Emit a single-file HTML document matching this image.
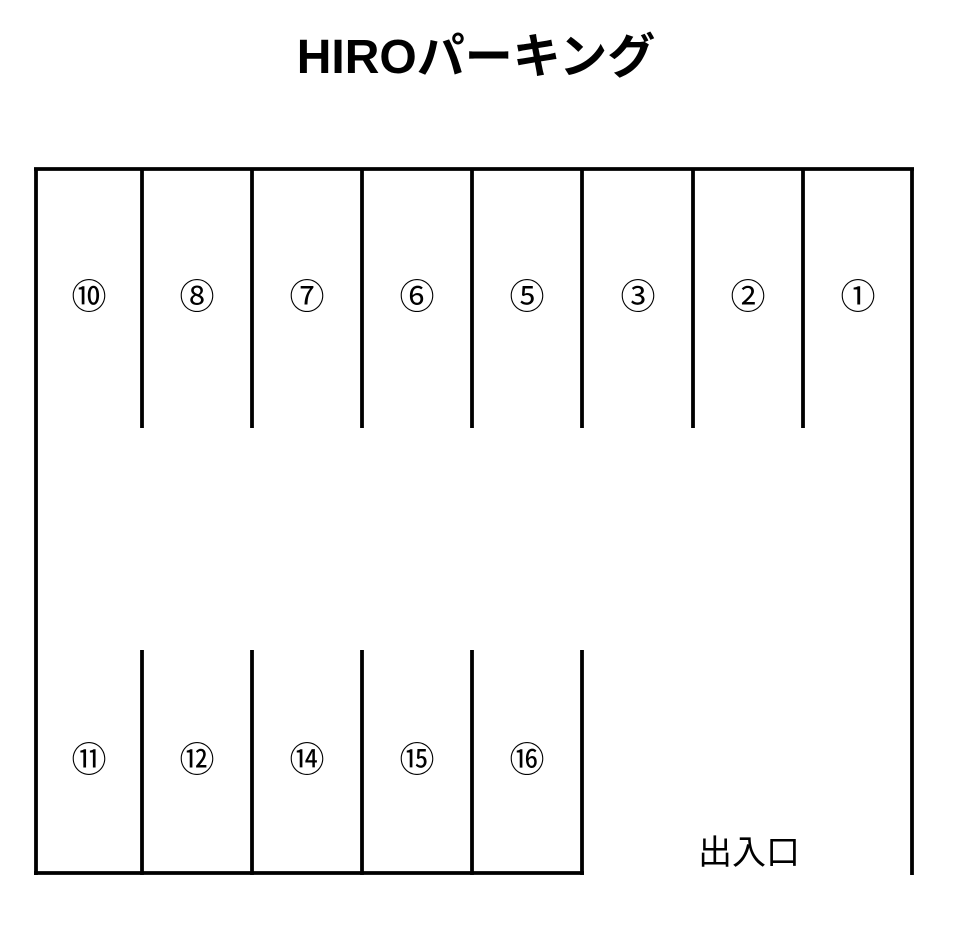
<!DOCTYPE html>
<html><head><meta charset="utf-8"><style>
html,body{margin:0;padding:0;background:#fff;}
svg{display:block;}
</style></head><body>
<svg width="968" height="940" viewBox="0 0 968 940" xmlns="http://www.w3.org/2000/svg">
<text x="476" y="73" text-anchor="middle" font-family="'Liberation Sans','Noto Sans CJK JP',sans-serif" font-weight="bold" font-size="48">HIROパーキング</text>
<g stroke="#000" stroke-width="3.8" fill="none">
<line x1="34" y1="169" x2="914" y2="169"/>
<line x1="36" y1="169" x2="36" y2="875"/>
<line x1="912" y1="169" x2="912" y2="875"/>
<line x1="34" y1="873" x2="584" y2="873"/>
<line x1="142" y1="169" x2="142" y2="428"/>
<line x1="252" y1="169" x2="252" y2="428"/>
<line x1="362" y1="169" x2="362" y2="428"/>
<line x1="472" y1="169" x2="472" y2="428"/>
<line x1="582" y1="169" x2="582" y2="428"/>
<line x1="693" y1="169" x2="693" y2="428"/>
<line x1="803" y1="169" x2="803" y2="428"/>
<line x1="142" y1="650" x2="142" y2="875"/>
<line x1="252" y1="650" x2="252" y2="875"/>
<line x1="362" y1="650" x2="362" y2="875"/>
<line x1="472" y1="650" x2="472" y2="875"/>
<line x1="582" y1="650" x2="582" y2="875"/>
</g>
<g font-family="'Noto Sans CJK JP','Liberation Sans',sans-serif" font-size="35" text-anchor="middle">
<text x="89" y="309">⑩</text>
<text x="197" y="309">⑧</text>
<text x="307" y="309">⑦</text>
<text x="417" y="309">⑥</text>
<text x="527" y="309">⑤</text>
<text x="638" y="309">③</text>
<text x="748" y="309">②</text>
<text x="858" y="309">①</text>
<text x="89" y="772">⑪</text>
<text x="197" y="772">⑫</text>
<text x="307" y="772">⑭</text>
<text x="417" y="772">⑮</text>
<text x="527" y="772">⑯</text>
</g>
<text x="749" y="864" text-anchor="middle" font-family="'Noto Sans CJK JP',sans-serif" font-size="34">出入口</text>
</svg>
</body></html>
